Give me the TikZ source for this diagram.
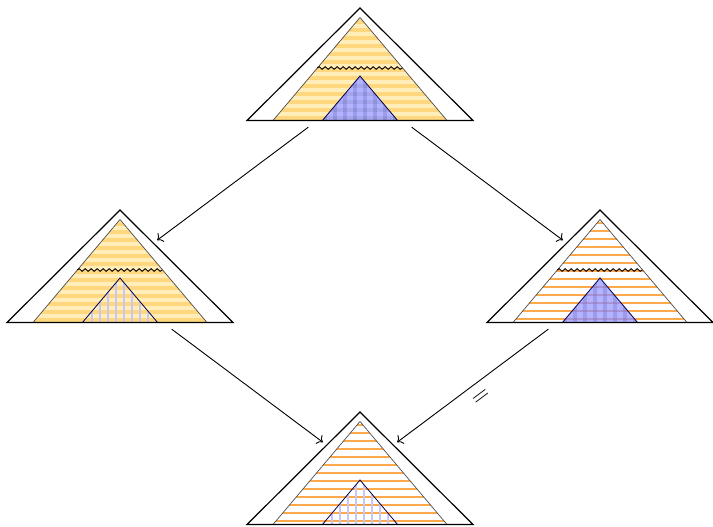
\documentclass[tikz,border=0pt]{standalone}
\usepackage{tikz}
\usetikzlibrary{arrows.meta,decorations.pathmorphing}
\definecolor{ylight}{HTML}{FFEDBA}
\definecolor{ydark}{HTML}{FFD77E}
\definecolor{orng}{HTML}{FFA94D}
\definecolor{bfill}{HTML}{B3B3FF}
\definecolor{bdark}{HTML}{9C9CEE}
\definecolor{bhatch}{HTML}{C6C6FF}

% #1 name, #2/#3 apex, #4 yellow core (1) or orange lines (0),
% #5 solid seed (1) or hatched seed (0), #6 wavy cut (1/0)
\newcommand{\pyramid}[6]{%
\begin{scope}[shift={(#2,#3)}]
  \begin{scope}
    \clip (-87,112.5) -- (0,9.5) -- (87,112.5) -- cycle;
    \ifnum#4=1\relax
      \fill[ylight] (-90,0) rectangle (90,115);
      \foreach \k in {0,...,13} \fill[ydark] (-90,4+8*\k) rectangle (90,8+8*\k);
    \else
      \foreach \k in {1,...,14} \draw[orng, line width=1pt] (-90,8*\k-3.5) -- (90,8*\k-3.5);
    \fi
  \end{scope}
  \begin{scope}
    \clip (-37.6,112.5) -- (0,68) -- (37.6,112.5) -- cycle;
    \ifnum#5=1\relax
      \fill[bfill] (-40,60) rectangle (40,115);
      \foreach \k in {-4,...,3} \fill[bdark] (10*\k+3,60) rectangle (10*\k+7,115);
      \ifnum#4=1\relax
        \foreach \k in {8,...,13} \fill[black, opacity=.07] (-40,4+8*\k) rectangle (40,8+8*\k);
      \else
        \foreach \k in {8,...,14} \draw[orng!60!blue, opacity=.4, line width=1pt] (-40,8*\k-3.5) -- (40,8*\k-3.5);
      \fi
    \else
      \foreach \k in {-5,...,4} \draw[bhatch, line width=1pt] (8*\k+4,60) -- (8*\k+4,115);
    \fi
  \end{scope}
  \draw[core] (-87,112.5) -- (0,9.5) -- (87,112.5) -- cycle;
  \draw[seed] (-37.6,112.5) -- (0,68) -- (37.6,112.5) -- cycle;
  \ifnum#6=1\relax \draw[wave] (-42.7,60) -- (42.7,60); \fi
  \draw[shell] (-113,112.5) -- (0,0) -- (113,112.5) -- cycle;
  \coordinate (#1) at (0,58);
  \coordinate (#1-out) at (0,80.5);
\end{scope}}

\begin{document}
\begin{tikzpicture}[x=0.5pt, y=-0.5pt,
  shell/.style={draw, line width=0.6pt},
  core/.style={draw=black!70, line width=0.35pt},
  seed/.style={draw=blue!30!black, line width=0.4pt},
  wave/.style={decorate, decoration={snake, amplitude=0.65pt, segment length=3pt}, line width=0.45pt},
  link/.style={->, line width=0.45pt, shorten <=32.3pt, shorten >=23.2pt},
  eqmark/.style={pos=0.53, sloped, anchor=north, inner sep=5pt, font=\large}]
\useasboundingbox (0,0) rectangle (713,526);
\pyramid{top}{360}{8}{1}{1}{1}
\pyramid{left}{120}{210}{1}{0}{1}
\pyramid{right}{600}{210}{0}{1}{1}
\pyramid{bottom}{360}{412}{0}{0}{0}
\foreach \a/\b in {top/left,top/right,left/bottom} \draw[link] (\a-out) -- (\b);
\draw[link] (right-out) -- node[eqmark] (eq) {$=$} (bottom);
\end{tikzpicture}
\end{document}
